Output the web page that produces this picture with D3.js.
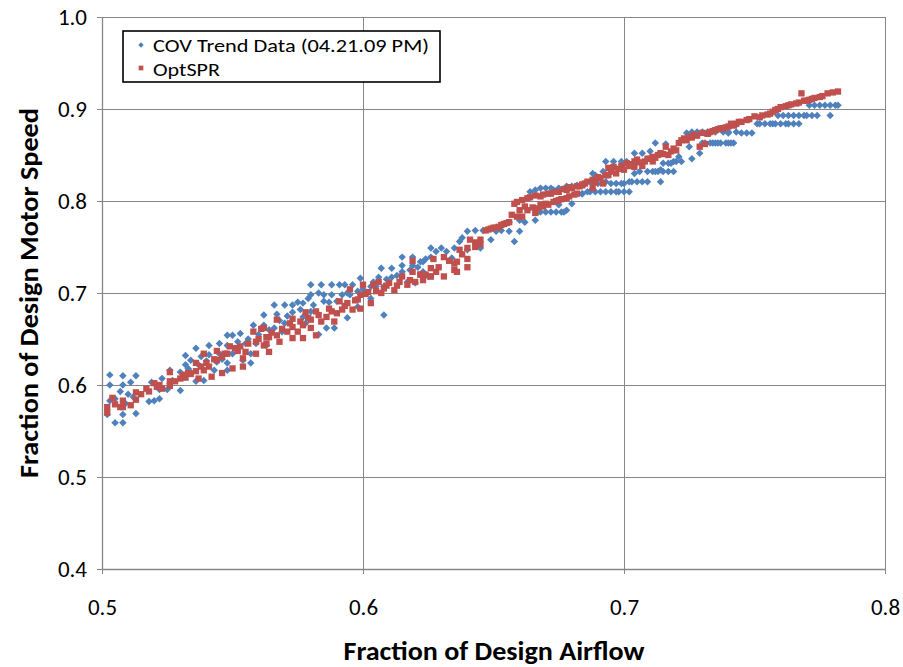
<!DOCTYPE html>
<html><head><meta charset="utf-8">
<script src="https://cdn.jsdelivr.net/npm/d3@7"></script>
<style>body{margin:0;background:#fff}svg{display:block}</style>
</head><body>
<script>
// ---- data (fraction of design airflow, fraction of design motor speed) ----
const seriesNames = ["COV Trend Data (04.21.09 PM)", "OptSPR"];
const xTicks = [0.5, 0.6, 0.7, 0.8];
const yTicks = [0.4, 0.5, 0.6, 0.7, 0.8, 0.9, 1.0];
const xTitle = "Fraction of Design Airflow";
const yTitle = "Fraction of Design Motor Speed";

const covData = [
[0.503,0.611],[0.508,0.610],[0.513,0.610],[0.511,0.603],[0.508,0.600],[0.503,0.600],[0.507,0.593],[0.510,0.590],
[0.503,0.583],[0.505,0.585],[0.512,0.587],[0.508,0.578],[0.509,0.580],[0.502,0.568],[0.508,0.568],[0.513,0.569],
[0.505,0.559],[0.508,0.559],[0.518,0.582],[0.520,0.583],[0.519,0.603],[0.522,0.585],[0.522,0.595],[0.523,0.607],
[0.525,0.595],[0.526,0.616],[0.530,0.594],[0.530,0.614],[0.532,0.632],[0.532,0.622],[0.534,0.627],[0.534,0.614],
[0.536,0.640],[0.538,0.631],[0.539,0.605],[0.536,0.604],[0.541,0.643],[0.541,0.633],[0.544,0.625],[0.545,0.645],
[0.545,0.634],[0.543,0.616],[0.548,0.654],[0.548,0.643],[0.548,0.624],[0.548,0.616],[0.550,0.654],[0.550,0.634],
[0.552,0.647],[0.553,0.656],[0.554,0.627],[0.555,0.645],[0.557,0.634],[0.557,0.624],[0.558,0.665],[0.559,0.645],
[0.562,0.665],[0.563,0.643],
[0.527,0.605],[0.533,0.618],[0.537,0.622],[0.540,0.626],[0.546,0.628],[0.551,0.640],[0.556,0.650],[0.560,0.655],
[0.564,0.660],[0.568,0.670],[0.571,0.675],[0.575,0.690],[0.579,0.694],[0.583,0.700],[0.587,0.690],[0.594,0.700],
[0.600,0.704],[0.604,0.712],[0.609,0.715],[0.613,0.719],[0.618,0.725],[0.621,0.728],[0.624,0.737],
[0.562,0.676],[0.566,0.687],[0.567,0.677],[0.566,0.662],[0.569,0.658],[0.570,0.687],[0.573,0.687],[0.573,0.679],
[0.570,0.667],[0.577,0.689],[0.576,0.682],[0.577,0.674],[0.578,0.667],[0.580,0.709],[0.580,0.698],[0.581,0.687],
[0.580,0.680],[0.583,0.655],[0.584,0.709],[0.585,0.698],[0.585,0.691],[0.586,0.662],[0.588,0.709],[0.588,0.698],
[0.589,0.662],[0.590,0.691],[0.591,0.709],[0.592,0.698],[0.593,0.709],[0.594,0.673],[0.595,0.698],[0.596,0.709],
[0.598,0.702],[0.598,0.685],[0.599,0.716],[0.603,0.707],[0.603,0.694],[0.605,0.707],[0.606,0.717],[0.607,0.727],
[0.608,0.676],[0.608,0.707],[0.611,0.727],[0.611,0.717],[0.615,0.739],[0.615,0.730],[0.615,0.723],[0.617,0.712],
[0.619,0.739],[0.619,0.730],[0.620,0.711],[0.623,0.734],[0.623,0.723],[0.625,0.718],[0.626,0.739],
[0.622,0.734],[0.626,0.749],[0.628,0.745],[0.630,0.749],[0.632,0.745],[0.635,0.749],[0.634,0.738],[0.637,0.756],
[0.638,0.760],[0.640,0.767],[0.640,0.747],[0.643,0.768],[0.645,0.749],[0.646,0.768],[0.649,0.758],[0.651,0.767],
[0.653,0.768],[0.656,0.767],[0.656,0.777],[0.658,0.756],[0.660,0.767],[0.660,0.779],[0.662,0.777],[0.666,0.779],
[0.664,0.810],[0.667,0.788],[0.670,0.788],[0.672,0.788],[0.675,0.796],[0.676,0.788],[0.678,0.790],[0.680,0.797],
[0.668,0.788],[0.674,0.788],[0.677,0.788],[0.666,0.812],[0.668,0.814],[0.675,0.814],[0.680,0.816],
[0.682,0.817],[0.684,0.808],[0.685,0.819],[0.670,0.814],[0.672,0.814],[0.673,0.812],[0.678,0.816],
[0.684,0.808],[0.687,0.810],[0.688,0.830],[0.689,0.828],[0.688,0.819],[0.691,0.810],[0.692,0.832],[0.693,0.843],
[0.693,0.821],[0.695,0.810],[0.696,0.843],[0.697,0.819],[0.698,0.810],[0.699,0.843],[0.700,0.819],[0.702,0.810],
[0.686,0.810],[0.689,0.810],[0.693,0.810],[0.697,0.810],[0.700,0.810],[0.690,0.819],[0.695,0.819],[0.699,0.819],
[0.702,0.821],[0.705,0.821],[0.709,0.821],[0.706,0.832],[0.713,0.832],[0.715,0.832],[0.719,0.832],
[0.701,0.843],[0.715,0.841],[0.719,0.843],[0.722,0.843],[0.726,0.846],
[0.703,0.821],[0.704,0.852],[0.704,0.830],[0.707,0.852],[0.707,0.821],[0.709,0.832],[0.710,0.854],[0.711,0.832],
[0.712,0.863],[0.712,0.832],[0.714,0.821],[0.714,0.834],[0.716,0.862],[0.717,0.841],[0.717,0.832],[0.718,0.841],
[0.720,0.843],[0.721,0.848],[0.724,0.874],[0.725,0.859],[0.728,0.875],[0.729,0.852],[0.730,0.863],[0.732,0.875],
[0.734,0.863],[0.735,0.863],[0.737,0.863],[0.740,0.863],[0.741,0.863],[0.738,0.875],[0.743,0.875],[0.733,0.874],
[0.731,0.863],[0.733,0.863],[0.736,0.863],[0.739,0.863],[0.742,0.863],
[0.726,0.875],[0.730,0.875],[0.735,0.875],[0.740,0.875],[0.747,0.874],
[0.740,0.874],[0.745,0.874],[0.749,0.874],[0.751,0.884],[0.754,0.884],[0.757,0.884],[0.760,0.884],[0.763,0.884],
[0.752,0.884],[0.756,0.884],[0.758,0.884],[0.762,0.884],[0.765,0.884],
[0.767,0.884],[0.759,0.893],[0.763,0.893],[0.767,0.893],[0.770,0.893],[0.774,0.893],[0.771,0.904],[0.775,0.904],
[0.761,0.893],[0.765,0.893],[0.769,0.893],[0.772,0.893],[0.773,0.904],[0.777,0.904],[0.781,0.904],
[0.779,0.904],[0.782,0.904],[0.779,0.893],[0.743,0.883]
];

const optData = [
[0.502,0.576],[0.502,0.570],[0.505,0.579],[0.504,0.586],[0.507,0.576],[0.508,0.583],[0.508,0.576],[0.511,0.578],
[0.513,0.584],[0.513,0.592],[0.517,0.596],[0.518,0.593],[0.520,0.602],[0.522,0.600],[0.523,0.596],[0.526,0.604],
[0.526,0.614],[0.526,0.599],[0.530,0.607],[0.531,0.611],[0.532,0.608],[0.534,0.612],[0.536,0.615],[0.536,0.624],
[0.537,0.607],[0.539,0.634],[0.539,0.616],[0.540,0.624],[0.541,0.620],[0.542,0.609],[0.544,0.637],[0.544,0.627],
[0.546,0.631],[0.546,0.613],[0.548,0.634],[0.549,0.642],[0.550,0.618],[0.552,0.637],[0.553,0.642],[0.554,0.629],
[0.554,0.620],[0.555,0.636],[0.558,0.658],[0.559,0.647],[0.559,0.634],[0.562,0.662],[0.562,0.643],[0.563,0.652],
[0.564,0.636],
[0.515,0.590],[0.521,0.598],[0.528,0.604],[0.533,0.613],[0.538,0.620],[0.543,0.628],[0.547,0.634],[0.551,0.640],
[0.556,0.645],[0.560,0.650],[0.565,0.657],[0.569,0.661],[0.572,0.667],[0.576,0.669],[0.579,0.673],[0.583,0.676],
[0.588,0.680],[0.593,0.686],[0.598,0.693],[0.601,0.699],[0.605,0.702],[0.609,0.708],[0.613,0.708],[0.618,0.714],
[0.624,0.720],[0.629,0.728],[0.633,0.735],[0.638,0.742],[0.643,0.755],
[0.561,0.661],[0.564,0.652],[0.563,0.645],[0.567,0.654],[0.567,0.671],[0.568,0.647],[0.571,0.658],[0.573,0.651],
[0.573,0.663],[0.573,0.672],[0.575,0.658],[0.577,0.665],[0.577,0.651],[0.578,0.679],[0.580,0.662],[0.580,0.671],
[0.582,0.654],[0.582,0.680],[0.584,0.669],[0.586,0.674],[0.587,0.683],[0.589,0.669],[0.590,0.678],[0.591,0.691],
[0.592,0.682],[0.594,0.689],[0.595,0.704],[0.596,0.682],[0.597,0.692],[0.599,0.683],[0.599,0.698],[0.600,0.709],
[0.602,0.701],[0.603,0.689],[0.604,0.709],[0.606,0.712],[0.607,0.700],[0.608,0.705],[0.610,0.711],[0.612,0.703],
[0.614,0.712],[0.615,0.718],[0.617,0.709],[0.619,0.723],[0.619,0.735],[0.620,0.712],[0.622,0.720],[0.623,0.714],
[0.626,0.727],[0.626,0.718],
[0.622,0.720],[0.626,0.718],[0.627,0.737],[0.628,0.723],[0.631,0.739],[0.631,0.718],[0.635,0.732],[0.635,0.725],
[0.636,0.734],[0.636,0.723],[0.637,0.747],[0.640,0.749],[0.640,0.737],[0.640,0.728],[0.641,0.758],[0.643,0.750],
[0.645,0.758],[0.645,0.753],[0.647,0.768],[0.649,0.770],[0.652,0.772],[0.654,0.775],[0.656,0.777],[0.657,0.785],
[0.648,0.769],[0.650,0.771],[0.651,0.771],[0.653,0.774],[0.655,0.776],
[0.658,0.797],[0.659,0.783],[0.660,0.790],[0.661,0.783],[0.661,0.801],[0.662,0.794],[0.663,0.803],[0.665,0.793],
[0.666,0.787],[0.668,0.805],[0.668,0.796],[0.669,0.807],[0.670,0.797],[0.672,0.808],[0.673,0.799],[0.675,0.810],
[0.659,0.799],[0.664,0.804],[0.666,0.806],[0.671,0.808],[0.674,0.810],[0.677,0.813],[0.679,0.815],[0.682,0.816],
[0.663,0.790],[0.667,0.792],[0.669,0.794],[0.671,0.796],[0.674,0.800],[0.676,0.802],[0.679,0.805],[0.682,0.808],
[0.675,0.801],[0.678,0.812],[0.678,0.803],[0.680,0.814],[0.681,0.807],[0.683,0.816],[0.684,0.818],[0.685,0.819],
[0.684,0.817],[0.686,0.821],[0.688,0.823],[0.688,0.814],[0.691,0.825],[0.692,0.819],[0.694,0.836],[0.694,0.828],
[0.696,0.837],[0.697,0.830],[0.699,0.838],[0.700,0.834],[0.701,0.841],[0.704,0.843],[0.704,0.837],[0.705,0.845],
[0.707,0.838],[0.709,0.846],[0.711,0.848],[0.711,0.843],[0.713,0.850],[0.714,0.852],[0.716,0.859],[0.717,0.850],
[0.689,0.820],[0.690,0.826],[0.693,0.828],[0.695,0.832],[0.698,0.835],[0.702,0.838],[0.703,0.840],[0.706,0.842],
[0.708,0.843],[0.710,0.846],[0.712,0.847],[0.715,0.851],[0.719,0.857],[0.724,0.866],[0.726,0.869],[0.728,0.871],
[0.718,0.854],[0.720,0.855],[0.721,0.863],[0.722,0.866],[0.723,0.868],[0.725,0.870],[0.727,0.872],[0.729,0.859],
[0.730,0.874],[0.731,0.862],[0.733,0.875],[0.735,0.877],[0.738,0.879],[0.740,0.881],[0.742,0.882],[0.743,0.884],
[0.732,0.873],[0.734,0.876],[0.736,0.878],[0.739,0.880],[0.745,0.886],[0.748,0.889],[0.752,0.891],[0.755,0.894],
[0.757,0.897],[0.759,0.900],[0.762,0.903],[0.764,0.905],[0.767,0.907],[0.769,0.909],[0.771,0.910],[0.773,0.912],
[0.776,0.914],[0.780,0.918],
[0.737,0.879],[0.741,0.884],[0.744,0.886],[0.747,0.888],[0.750,0.892],[0.753,0.893],[0.756,0.895],[0.758,0.899],
[0.760,0.902],[0.763,0.904],[0.766,0.906],[0.768,0.917],[0.770,0.909],[0.772,0.911],[0.775,0.913],[0.778,0.917],
[0.782,0.919]
];

// ---- drawing ----
const W = 903, H = 667;
const colors = ["#4F81BD", "#C0504D"];
const narrow = "'Liberation Sans Narrow', Carlito, 'Roboto Condensed', Lato, 'Liberation Sans', sans-serif";
const svg = d3.select("body").append("svg").attr("width", W).attr("height", H);

const x = d3.scaleLinear().domain([0.5, 0.8]).range([102, 885]);
const y = d3.scaleLinear().domain([0.4, 1.0]).range([569, 17]);
const gridCol = "#878787";

// gridlines
svg.append("g").selectAll("line").data(yTicks.filter(d => d > 0.4)).join("line")
  .attr("x1", x(0.5)).attr("x2", x(0.8)).attr("y1", d => y(d)).attr("y2", d => y(d))
  .attr("stroke", gridCol).attr("stroke-width", 1).attr("shape-rendering", "crispEdges");
svg.append("g").selectAll("line").data(xTicks.filter(d => d > 0.5)).join("line")
  .attr("y1", y(0.4)).attr("y2", y(1.0)).attr("x1", d => x(d)).attr("x2", d => x(d))
  .attr("stroke", gridCol).attr("stroke-width", 1).attr("shape-rendering", "crispEdges");

// axes
const yAxis = svg.append("g").attr("transform", `translate(${x(0.5)},0)`)
  .call(d3.axisLeft(y).tickValues(yTicks).tickSize(5).tickSizeOuter(0).tickFormat(d3.format(".1f")));
const xAxis = svg.append("g").attr("transform", `translate(0,${y(0.4)})`)
  .call(d3.axisBottom(x).tickValues(xTicks).tickSize(5).tickSizeOuter(0).tickFormat(d3.format(".1f")));
[yAxis, xAxis].forEach(a => {
  a.select(".domain").attr("stroke", gridCol).attr("stroke-width", 1.3);
  a.selectAll(".tick line").attr("stroke", gridCol);
  a.selectAll(".tick text").attr("fill", "#000").attr("font-family", narrow).attr("font-size", 23);
});
yAxis.selectAll(".tick text").attr("x", -15).attr("dy", "0.34em");
xAxis.selectAll(".tick text").attr("y", 30).attr("dy", "0.71em");

// points
const diamond = d3.symbol().type(d3.symbolSquare).size(28)();
const square = d3.symbol().type(d3.symbolSquare).size(40)();
svg.append("g").selectAll("path").data(covData).join("path")
  .attr("d", diamond)
  .attr("transform", d => `translate(${x(d[0])},${y(d[1])}) rotate(45)`)
  .attr("fill", colors[0]);
svg.append("g").selectAll("path").data(optData).join("path")
  .attr("d", square)
  .attr("transform", d => `translate(${x(d[0])},${y(d[1])})`)
  .attr("fill", colors[1]);

// axis titles
svg.append("text").attr("x", 494).attr("y", 660).attr("text-anchor", "middle")
  .attr("font-family", narrow).attr("font-weight", "bold").attr("font-size", 27)
  .attr("textLength", 301).attr("lengthAdjust", "spacingAndGlyphs").text(xTitle);
svg.append("text").attr("transform", "translate(38,293) rotate(-90)").attr("text-anchor", "middle")
  .attr("font-family", narrow).attr("font-weight", "bold").attr("font-size", 27)
  .attr("textLength", 370).attr("lengthAdjust", "spacingAndGlyphs").text(yTitle);

// legend
const lg = svg.append("g");
lg.append("rect").attr("x", 123).attr("y", 31).attr("width", 317).attr("height", 51)
  .attr("fill", "#fff").attr("stroke", "#000").attr("stroke-width", 1.6);
lg.append("path").attr("d", d3.symbol().type(d3.symbolSquare).size(14)())
  .attr("transform", "translate(141,45) rotate(45)").attr("fill", colors[0]);
lg.append("path").attr("d", d3.symbol().type(d3.symbolSquare).size(22)())
  .attr("transform", "translate(141,68)").attr("fill", colors[1]);
lg.append("text").attr("x", 153).attr("y", 52).attr("font-family", narrow).attr("font-size", 19)
  .attr("textLength", 276).attr("lengthAdjust", "spacingAndGlyphs").text(seriesNames[0]);
lg.append("text").attr("x", 153).attr("y", 76).attr("font-family", narrow).attr("font-size", 19)
  .attr("textLength", 67).attr("lengthAdjust", "spacingAndGlyphs").text(seriesNames[1]);
</script>
</body></html>
